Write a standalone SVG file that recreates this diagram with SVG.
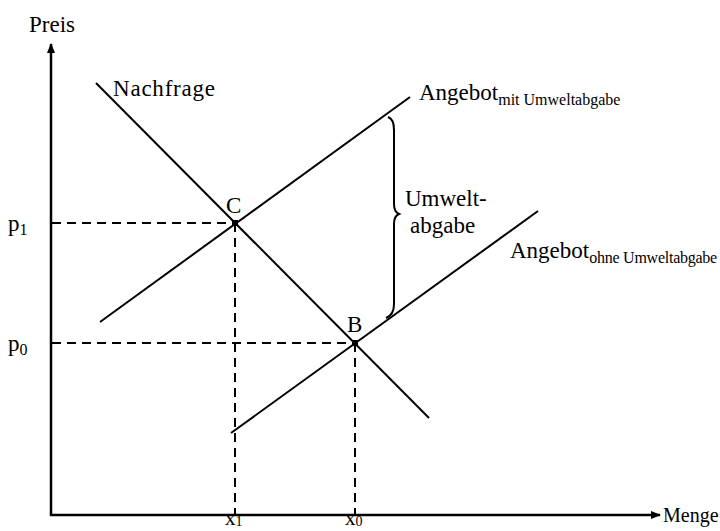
<svg xmlns="http://www.w3.org/2000/svg" width="720" height="531" viewBox="0 0 720 531">
<defs>
<marker id="arr" viewBox="0 0 10 10" refX="9" refY="5" markerWidth="10" markerHeight="10" markerUnits="userSpaceOnUse" orient="auto">
<path d="M0,1 L10,5 L0,9 Z" fill="#000"/>
</marker>
</defs>
<style>
text{font-family:"Liberation Serif","Times New Roman",serif;fill:#000}
.lbl{font-size:23px}
.sub{font-size:16px}
.xl{font-size:21px}
.xs{font-size:14px}
.mg{font-size:20px}
.ax{stroke:#000;stroke-width:2.5;fill:none}
.ln{stroke:#000;stroke-width:2;fill:none}
.dash{stroke:#000;stroke-width:2;stroke-dasharray:9 6;fill:none}
</style>
<rect width="720" height="531" fill="#fff"/>
<g id="connectors">
<line class="ax" x1="51" y1="516" x2="51" y2="44" marker-end="url(#arr)"/>
<line class="ax" x1="50" y1="515" x2="660" y2="515" marker-end="url(#arr)"/>
<line class="dash" x1="52" y1="223" x2="235" y2="223"/>
<line class="dash" x1="235" y1="223" x2="235" y2="514"/>
<line class="dash" x1="52" y1="343" x2="355" y2="343"/>
<line class="dash" x1="355" y1="343" x2="355" y2="514"/>
</g>
<g id="nachfrage">
<line class="ln" x1="96" y1="83" x2="429" y2="418"/>
<text class="lbl" x="113" y="96" textLength="102">Nachfrage</text>
</g>
<g id="angebot-mit">
<line class="ln" x1="100" y1="322" x2="410" y2="97"/>
<text class="lbl" x="419" y="100">Angebot<tspan class="sub" dy="5">mit Umweltabgabe</tspan></text>
</g>
<g id="angebot-ohne">
<line class="ln" x1="231" y1="433" x2="538" y2="211"/>
<text class="lbl" x="510" y="258">Angebot<tspan class="sub" dy="5" textLength="128">ohne Umweltabgabe</tspan></text>
</g>
<g id="umweltabgabe">
<path class="ln" d="M388,117 Q394,119 394,130 L394,204 Q394,212 399,214 Q394,216 394,224 L394,304 Q394,315 386,318"/>
<text class="lbl" x="405" y="206">Umwelt-</text>
<text class="lbl" x="410" y="233">abgabe</text>
</g>
<g id="point-C">
<rect x="232" y="220" width="6" height="6" fill="#000"/>
<text class="lbl" x="226" y="213">C</text>
</g>
<g id="point-B">
<rect x="352" y="340" width="6" height="6" fill="#000"/>
<text class="lbl" x="347" y="332">B</text>
</g>
<g id="axis-labels">
<text class="lbl" x="29" y="32">Preis</text>
<text class="mg" x="663" y="522">Menge</text>
<text class="lbl" x="8" y="231">p<tspan class="sub" dy="4">1</tspan></text>
<text class="lbl" x="8" y="351">p<tspan class="sub" dy="4">0</tspan></text>
<text class="xl" x="225" y="525">x<tspan class="xs" dy="1">1</tspan></text>
<text class="xl" x="345" y="525">x<tspan class="xs" dy="1">0</tspan></text>
</g>
</svg>
